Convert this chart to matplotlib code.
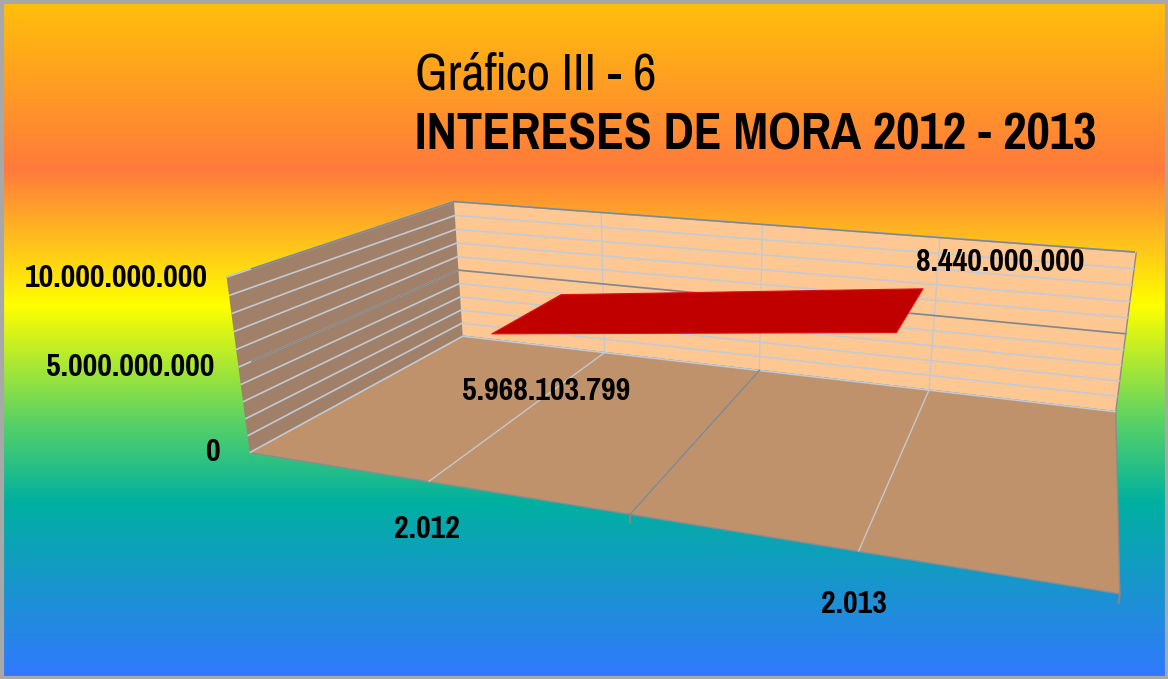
import numpy as np
import matplotlib
matplotlib.use("Agg")
import matplotlib.pyplot as plt
from matplotlib import font_manager
from matplotlib.patches import Rectangle
from mpl_toolkits.mplot3d.art3d import Poly3DCollection

years = [2012, 2013]
intereses = [5968103799, 8440000000]
z_major = [0, 5000000000, 10000000000]
z_minor = list(range(0, 10000000001, 1000000000))
title_1 = "Gráfico III - 6"
title_2 = "INTERESES DE MORA 2012 - 2013"

W, H = 1168, 679
z_max = z_major[-1]

# excel used Arial Narrow; take the closest narrow face available
names = {f.name for f in font_manager.fontManager.ttflist}
candidates = ['Arial Narrow', 'Liberation Sans Narrow', 'Pragati Narrow', 'Archivo Narrow',
              'PT Sans Narrow', 'Liberation Sans']
narrow = [c for c in candidates if c in names][0]
plt.rcParams['font.family'] = [narrow, 'DejaVu Sans']


def fmt(v):
    return f"{v:,}".replace(',', '.')


fig = plt.figure(figsize=(W / 100, H / 100), dpi=100)

# rainbow background like the excel chart area
bg = fig.add_axes([0, 0, 1, 1], zorder=0)
bg.set_axis_off()
stops = [0, 0.25, 0.45, 0.62, 0.74, 1.0]
cols = np.array([[255, 192, 10], [255, 122, 60], [255, 255, 0],
                 [90, 210, 100], [0, 176, 160], [50, 120, 255]]) / 255
t = np.linspace(0, 1, H)
grad = np.stack([np.interp(t, stops, cols[:, i]) for i in range(3)], axis=-1)[:, None, :]
bg.imshow(grad, aspect='auto', extent=(0, W, H, 0))
bg.set_xlim(0, W)
bg.set_ylim(H, 0)
bg.add_patch(Rectangle((1.5, 1.5), W - 3, H - 3, fill=False, edgecolor='#A8A8A8', lw=3))

# 3d box, view fitted to the reference perspective
ax = fig.add_axes([0.2153, -0.1832, 0.7566, 1.3015], projection='3d', zorder=2)
ax.set_xlim(0, 2)
ax.set_ylim(0, 1)
ax.set_zlim(0, z_max)
ax.view_init(18.1728, -71.29, -0.3302)
ax.set_proj_type('persp', focal_length=0.2342)
ax.set_box_aspect((1, 0.5012, 0.2202))
ax.set_facecolor('none')
ax.title.set_visible(False)

ax.set_xticks([0.5, 1.0, 1.5])
ax.set_yticks([])
ax.set_zticks(z_minor)
for axis, col in ((ax.xaxis, '#A08068'), (ax.yaxis, '#FFC792'), (ax.zaxis, '#BF926C')):
    axis.set_pane_color(col)
    axis.pane.set_edgecolor('#8C8C8C')
    axis.line.set_color((0, 0, 0, 0))
    axis.label.set_visible(False)
    axis.offsetText.set_visible(False)
    axis.set_tick_params(which='both', colors=(0, 0, 0, 0), label1On=False, label2On=False)
ax.xaxis._axinfo['grid'].update(color='#C4C8CE', linewidth=1)
ax.zaxis._axinfo['grid'].update(color='#C2CAD4', linewidth=1.2)

gray = '#868686'
for v in z_major[1:]:
    ax.plot([0, 0], [0, 1], [v, v], color=gray, lw=1.2, zorder=1.6)
    ax.plot([0, 2], [1, 1], [v, v], color=gray, lw=1.2, zorder=1.6)
ax.plot([1, 1], [0, 1], [0, 0], color=gray, lw=1.2, zorder=1.6)
# tick marks
for v in z_major:
    ax.plot([0, -0.03], [0, 0], [v, v], color=gray, lw=1.5, zorder=1.6)
for xv in (0, 1, 2):
    ax.plot([xv, xv], [0, 0], [0, -0.45e9], color=gray, lw=1.5, zorder=1.6)

# line series as a 3d ribbon
xc = np.arange(len(years)) + 0.5
y_front, y_back = 0.32, 0.71
verts = [[(xc[0], y_front, intereses[0]), (xc[1], y_front, intereses[1]),
          (xc[1], y_back, intereses[1]), (xc[0], y_back, intereses[0])]]
ax.add_collection3d(Poly3DCollection(verts, facecolor='#C00000', edgecolor='#E01010', linewidth=0.8))

# labels: project the 3d anchor once, then place plain 2d text there
M = ax.get_proj()


def label(x, y, z, s, **kw):
    v = M @ np.array([x, y, z, 1.0])
    ax.text2D(v[0] / v[3], v[1] / v[3], s, transform=ax.transData,
              fontsize=25, fontweight='bold', color='black', **kw)


for v in z_major:
    label(-0.07 + 0.033 * v / z_max, -0.02, v, fmt(v), ha='right', va='center')
for x, yr in zip(xc, years):
    label(x, -0.02, -2.5e9, fmt(yr), ha='center', va='center')
label(xc[0], 0.6, intereses[0] - 5.7e9, fmt(intereses[0]), ha='center', va='center')
label(xc[1] - 0.02, 0.71, intereses[1] + 1.5e9, fmt(intereses[1]), ha='left', va='center')

fig.text(415 / W, 1 - 90 / H, title_1, fontsize=40, ha='left', va='baseline')
fig.text(415 / W, 1 - 150 / H, title_2, fontsize=40, fontweight='bold', ha='left', va='baseline')

fig.savefig('out.png', dpi=100)
